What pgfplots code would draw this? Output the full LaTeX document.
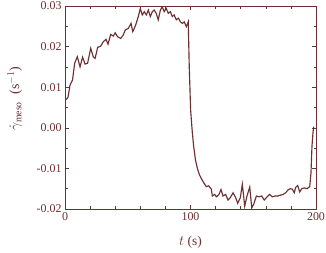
\documentclass[border=0pt]{standalone}
\usepackage{pgfplots}
\pgfplotsset{compat=1.18}
\usepackage{fontspec}
\setmainfont{Liberation Serif}
\usetikzlibrary{calc}
\definecolor{br}{RGB}{108,48,50}
\begin{document}
\begin{tikzpicture}
\begin{axis}[name=ax,
  scale only axis, width=251bp, height=203bp,
  xmin=0, xmax=200, ymin=-0.02, ymax=0.03,
  xtick={0,100,200}, minor x tick num=4,
  ytick={-0.02,-0.01,0,0.01,0.02,0.03}, minor y tick num=1,
  scaled ticks=false,
  yticklabel style={/pgf/number format/.cd, fixed, fixed zerofill, precision=2},
  /pgf/number format/assume math mode=true,
  tick align=inside,
  major tick length=4bp, minor tick length=2.5bp,
  axis line style={br, line width=0.8pt},
  every tick/.style={br, line width=0.6pt},
  tick label style={font=\fontsize{12}{14}\selectfont, text=br},
  xlabel={$t$ (s)},
  ylabel={$\dot{\gamma}_{\mathrm{meso}}$\; (s$^{-1}$)},
  every axis x label/.style={at={(axis description cs:0.5,-0.163)}, anchor=center, font=\fontsize{13.5}{15}\selectfont, text=br},
  every axis y label/.style={at={(axis description cs:-0.2,0.545)}, anchor=center, rotate=90, font=\fontsize{14}{16}\selectfont, text=br},
]
\addplot[br, line width=1.15pt, mark=none] coordinates {
(0,0.0068) (1,0.0070) (2.4,0.0075) (4,0.0105) (6,0.0118) (7.7,0.0159) (9.8,0.0175)
(12,0.0150) (14,0.0174) (16,0.0157) (18,0.0159) (20.5,0.0196) (22.5,0.0175) (24,0.0171)
(26,0.0198) (28.4,0.0201) (30.5,0.0212) (32.7,0.0218) (34.3,0.0206) (36.4,0.0230)
(38.5,0.0226) (40,0.0234) (42,0.0224) (44.4,0.0220) (46.5,0.0229) (48,0.0241)
(50.5,0.0245) (52.6,0.0257) (54,0.0237) (56.3,0.0253) (58.4,0.0274) (60,0.0294)
(61.6,0.0278) (63.2,0.0286) (64.8,0.0278) (66.4,0.0290) (68,0.0274) (69.6,0.0286)
(71,0.0290) (72.7,0.0282) (74.3,0.0266) (76,0.0290) (77.5,0.0298) (79,0.0286)
(80.7,0.0294) (82.3,0.0282) (84,0.0286) (85.5,0.0274) (87,0.0278) (88.7,0.0266)
(90.3,0.0270) (92,0.0261) (93.5,0.0257) (95,0.0261) (96.7,0.0249) (98.2,0.0261)
(99,0.0151) (100.1,0.0044) (101.4,-0.0010) (102.5,-0.0045) (104,-0.0080)
(105.5,-0.0100) (107,-0.0115) (108.6,-0.0125) (110.5,-0.0135) (112.6,-0.0145)
(114.5,-0.0143) (116.6,-0.0151) (117.4,-0.0168) (119.3,-0.0164) (120.6,-0.0170)
(122.7,-0.0164) (124.3,-0.0152) (125.9,-0.0168) (128,-0.0164) (129.9,-0.0178)
(131.7,-0.0172) (133.9,-0.0160) (136,-0.0172) (137.6,-0.0186) (139.7,-0.0172)
(141.3,-0.0139) (143.2,-0.0193) (145,-0.0168) (147.2,-0.0146) (148.8,-0.0197)
(150.4,-0.0188) (152.5,-0.0168) (154.6,-0.0170) (156.7,-0.0168) (158.8,-0.0178)
(161,-0.0170) (163.1,-0.0164) (165.2,-0.0170) (167.3,-0.0168) (169.5,-0.0168)
(171.6,-0.0166) (173.7,-0.0164) (175.9,-0.0160) (177.7,-0.0153) (179.5,-0.0150)
(181.1,-0.0151) (182.7,-0.0160) (183.8,-0.0147) (185.4,-0.0142) (187,-0.0158)
(188.6,-0.0150) (190.7,-0.0148) (192.8,-0.0150) (195,-0.0145) (196,-0.0111)
(196.8,-0.0045) (197.6,-0.0012) (198.2,0.0003)
};
\end{axis}
\pgfresetboundingbox
\path[use as bounding box] ($(ax.south west)+(-65bp,-44bp)$) rectangle ($(ax.north east)+(10bp,6bp)$);
\end{tikzpicture}
\end{document}
